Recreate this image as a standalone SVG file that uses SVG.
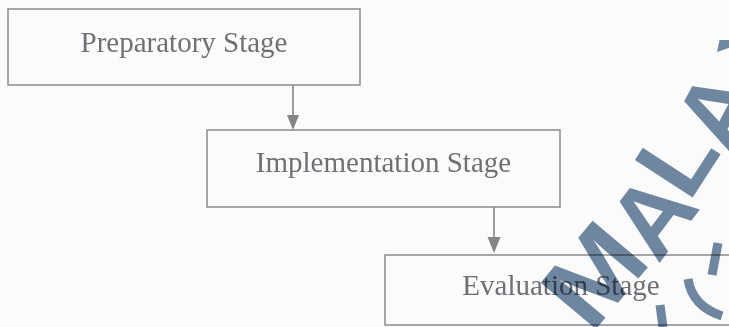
<svg xmlns="http://www.w3.org/2000/svg" width="729" height="327" viewBox="0 0 729 327">
  <defs>
    <style>
      .box { fill: none; stroke: #8a8a8e; stroke-width: 1.5; }
      .label { font-family: "Liberation Serif", "Times New Roman", serif; font-size: 29px; fill: #6f6f75; text-anchor: middle; }
      .conn { stroke: #858585; stroke-width: 1.6; fill: none; }
      .head { fill: #858585; }
      .wm { font-family: "Liberation Sans", Arial, sans-serif; font-size: 100px; font-weight: bold; fill: #7088a3; mix-blend-mode: multiply; }
      .wmfrag { fill: none; stroke: #7088a3; stroke-width: 9; mix-blend-mode: multiply; }
    </style>
    <clipPath id="yclip" clipPathUnits="userSpaceOnUse">
      <rect x="600" y="40" width="129" height="100"/>
    </clipPath>
  </defs>
  <rect width="729" height="327" fill="#fbfbfb"/>

  <g id="connectors">
    <line class="conn" x1="293" y1="85" x2="293" y2="116"/>
    <path class="head" d="M287,115 L299,115 L293,130 Z"/>
    <line class="conn" x1="494" y1="207" x2="494" y2="238"/>
    <path class="head" d="M487.5,237 L500.5,237 L494,253 Z"/>
  </g>

  <g id="preparatory">
    <rect class="box" x="8" y="9" width="352" height="76"/>
    <text class="label" x="184" y="52">Preparatory Stage</text>
  </g>
  <g id="implementation">
    <rect class="box" x="207" y="130" width="353" height="77"/>
    <text class="label" x="383.5" y="172">Implementation Stage</text>
  </g>
  <g id="evaluation">
    <rect class="box" x="385" y="255" width="360" height="70"/>
    <text class="label" x="561" y="295">Evaluation Stage</text>
  </g>

  <g id="watermark">
    <text class="wm" transform="translate(591,335) rotate(-50) scale(1.155,1.05)">M</text>
    <text class="wm" transform="translate(658,265) rotate(-53)">A</text>
    <text class="wm" transform="translate(689,203) rotate(-57)">L</text>
    <text class="wm" transform="translate(732,158) rotate(-62)">A</text>
    <g clip-path="url(#yclip)">
      <text class="wm" transform="translate(784,68) rotate(-78)">Y</text>
    </g>
    <path class="wmfrag" d="M718,243 L712,275"/>
    <path class="wmfrag" d="M688,279 Q692,306 722,316"/>
    <path class="wmfrag" d="M660,305 L663,327"/>
  </g>
</svg>
